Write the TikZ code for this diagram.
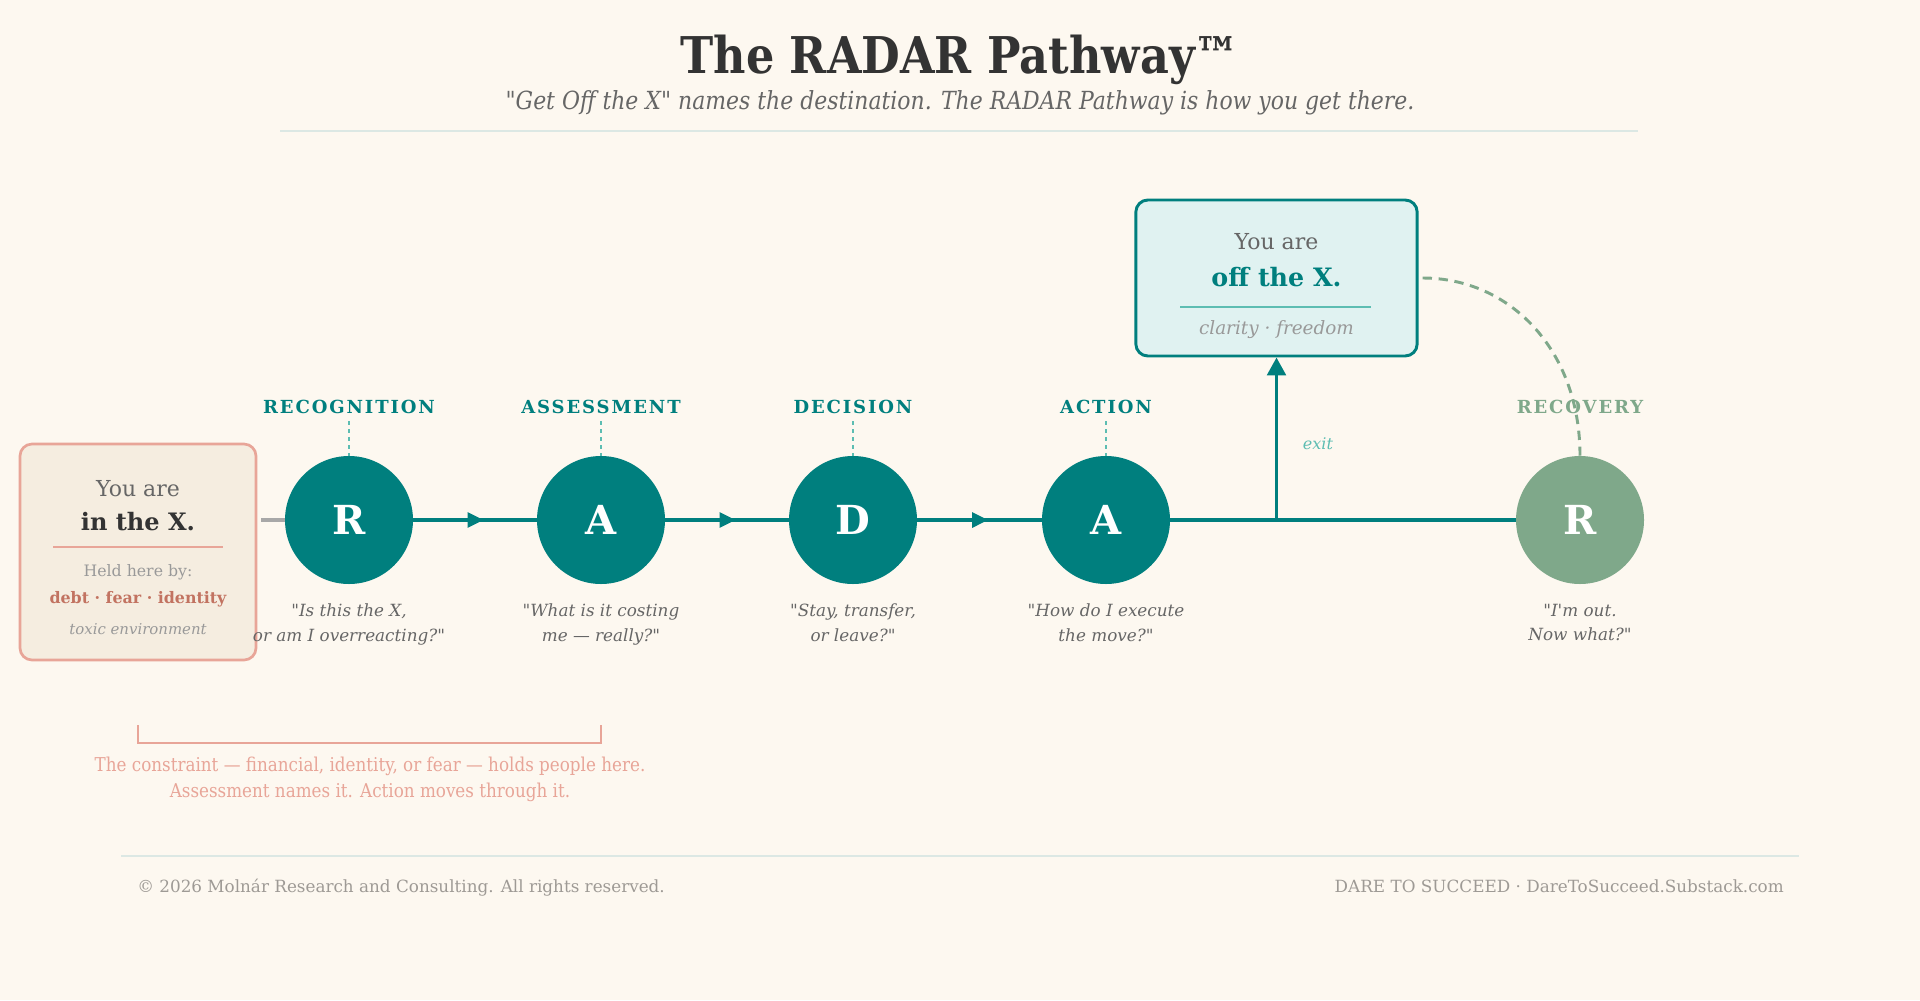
\documentclass[tikz,border=0pt]{standalone}
\usepackage{fontspec}
\setmainfont{DejaVu Serif}[Ligatures=TeXOff]
\newfontfamily\condserif[FakeStretch=0.88,Ligatures=TeXOff]{DejaVu Serif}
\newfontfamily\spacedserif[LetterSpace=10.5]{DejaVu Serif}
\usetikzlibrary{arrows.meta,positioning,decorations.markings}
\definecolor{bgcream}{HTML}{FDF8F0}
\definecolor{radarteal}{HTML}{007F7E}
\definecolor{sage}{HTML}{7FA88A}
\definecolor{salmon}{HTML}{E8A598}
\definecolor{boxcream}{HTML}{F5EDE0}
\definecolor{boxmint}{HTML}{E0F2F1}
\definecolor{textdark}{HTML}{333333}
\definecolor{textgray}{HTML}{666666}
\definecolor{textlight}{HTML}{999999}
\definecolor{ticklight}{HTML}{5DBDB2}
\definecolor{debtred}{HTML}{C27361}
\definecolor{rulegray}{HTML}{DCE8E4}
\definecolor{linkgray}{HTML}{A8A8A8}
\definecolor{footgray}{HTML}{9E9A95}

\begin{document}
\begin{tikzpicture}[
  x=0.75pt, y=-0.75pt,
  stage/.style={circle, fill=radarteal, minimum size=96pt, inner sep=0pt, text=white, font=\fontsize{30}{30}\selectfont\bfseries},
  stagelabel/.style={inner sep=0pt, text=radarteal, font=\spacedserif\fontsize{13.5}{13.5}\selectfont\bfseries},
  quote/.style={inner sep=0pt, align=center, text=textgray, font=\fontsize{12.6}{18.4}\selectfont\itshape},
  tick/.style={ticklight, line width=1.1pt, dash pattern=on 3pt off 3pt, shorten <=5pt},
  flow/.style={radarteal, line width=2.7pt},
  midarr/.style={postaction={decorate}, decoration={markings, mark=at position 0.57 with {\arrow{Triangle[length=12pt,width=11pt]}}}},
  inbox/.style={draw=salmon, fill=boxcream, line width=2pt, rounded corners=9pt, minimum width=177pt, minimum height=162pt},
  offbox/.style={draw=radarteal, fill=boxmint, line width=2.2pt, rounded corners=9pt, minimum width=211pt, minimum height=117pt},
  boxtext/.style={inner sep=0pt, text=textgray, font=\fontsize{16.5}{16.5}\selectfont},
]
  \fill[bgcream] (0,0) rectangle (1920,1000);
  \useasboundingbox (0,0) rectangle (1920,1000);

  % heading
  \node[text=textdark, font=\condserif\bfseries\fontsize{38}{38}\selectfont] (title) at (960,60) {The RADAR Pathway™};
  \node[text=textgray, font=\condserif\itshape\fontsize{18.7}{18.7}\selectfont] (subtitle) at (960,103) {"Get Off the X" names the destination. The RADAR Pathway is how you get there.};
  \draw[rulegray, line width=1.2pt] (280,131) -- (1638,131);

  % where you start
  \node[inbox] (inx) at (138,552) {};
  \node[boxtext] (inyou) at (138,489) {You are};
  \node[boxtext, text=textdark, font=\bfseries\fontsize{18}{18}\selectfont] (inname) at (138,522) {in the X.};
  \draw[salmon, line width=1.2pt] (53,547) -- (223,547);
  \node[boxtext, text=textlight, font=\fontsize{11.8}{11.8}\selectfont] (inheld) at (138,572) {Held here by:};
  \node[boxtext, text=debtred, font=\bfseries\fontsize{11.9}{11.9}\selectfont] (inhold) at (138,599) {debt · fear · identity};
  \node[boxtext, text=textlight, font=\itshape\fontsize{11.2}{11.2}\selectfont] (intoxic) at (138,629) {toxic environment};

  % where you end up
  \node[offbox] (offx) at (1276.5,278) {};
  \node[boxtext] (offyou) at (1276.5,242) {You are};
  \node[boxtext, text=radarteal, font=\bfseries\fontsize{19}{19}\selectfont] (offname) at (1276.5,277) {off the X.};
  \draw[ticklight, line width=1.2pt] (1180,307) -- (1371,307);
  \node[boxtext, text=textlight, font=\itshape\fontsize{13.8}{13.8}\selectfont] (offfree) at (1276.5,330) {clarity · freedom};

  % the five stages
  \node[stage] (r1) at (349,520) {R};
  \node[stage] (a1) at (601,520) {A};
  \node[stage] (d1) at (853,520) {D};
  \node[stage] (a2) at (1106,520) {A};
  \node[stage, fill=sage] (r2) at (1580,520) {R};

  \node[stagelabel, above=31pt of r1] (recog) {RECOGNITION};
  \node[stagelabel, above=31pt of a1] (assess) {ASSESSMENT};
  \node[stagelabel, above=31pt of d1] (decide) {DECISION};
  \node[stagelabel, above=31pt of a2] (act) {ACTION};
  \node[stagelabel, text=sage, above=31pt of r2] (recov) {RECOVERY};

  \draw[tick] (recog) -- (r1);
  \draw[tick] (assess) -- (a1);
  \draw[tick] (decide) -- (d1);
  \draw[tick] (act) -- (a2);

  \node[quote, below=14.5pt of r1] (q1) {"Is this the X,\\or am I overreacting?"};
  \node[quote, below=14.5pt of a1] (q2) {"What is it costing\\me — really?"};
  \node[quote, below=14.5pt of d1] (q3) {"Stay, transfer,\\or leave?"};
  \node[quote, below=14.5pt of a2] (q4) {"How do I execute\\the move?"};
  \node[quote, below=14.5pt of r2] (q5) {"I'm out.\\Now what?"};

  % connectors
  \draw[linkgray, line width=2.4pt, shorten <=3pt] (inx.east |- r1.west) -- (r1.west);
  \draw[flow, midarr] (r1) -- (a1);
  \draw[flow, midarr] (a1) -- (d1);
  \draw[flow, midarr] (d1) -- (a2);
  \draw[flow] (a2) -- (r2);
  \coordinate (exitpt) at (1276.5,520);
  \draw[flow, -{Triangle[length=13.5pt,width=14pt]}] (exitpt) -- (offx.south);
  \node[text=ticklight, font=\itshape\fontsize{12}{12}\selectfont] (exitlbl) at (1318,444) {exit};
  \draw[sage, line width=2.2pt, dash pattern=on 7pt off 5pt, shorten <=3pt] (offx.east) .. controls (1510,278) and (1580,350) .. (r2.north);

  % the constraint
  \draw[salmon, line width=1.3pt] (138,725) -- (138,743) -- (601,743) -- (601,725);
  \node[align=center, text=salmon, font=\condserif\fontsize{14.3}{19.5}\selectfont] (constraint) at (370,779) {The constraint — financial, identity, or fear — holds people here.\\Assessment names it. Action moves through it.};

  % footer
  \draw[rulegray, line width=1.2pt] (121,856) -- (1799,856);
  \node[anchor=base west, inner sep=0pt, text=footgray, font=\fontsize{12.6}{12.6}\selectfont] (copyr) at (137,892) {© 2026 Molnár Research and Consulting. All rights reserved.};
  \node[anchor=base east, inner sep=0pt, text=footgray, font=\fontsize{12.6}{12.6}\selectfont] (brand) at (1784,892) {DARE TO SUCCEED · DareToSucceed.Substack.com};
\end{tikzpicture}
\end{document}
